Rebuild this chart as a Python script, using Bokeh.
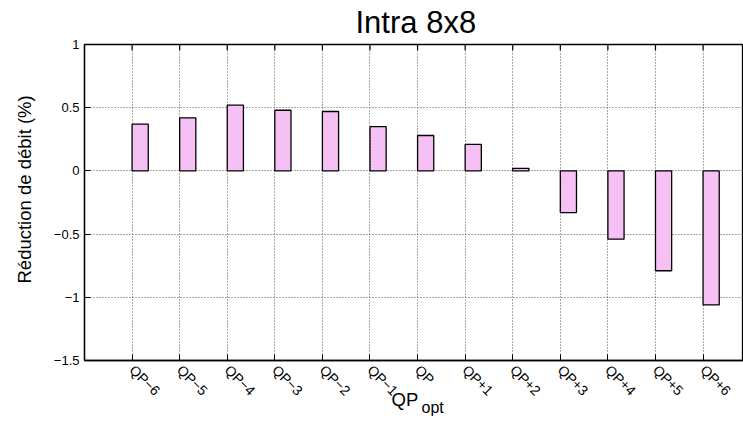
import math
from bokeh.plotting import figure
from bokeh.models import Range1d, FixedTicker, LinearAxis, Title, ColumnDataSource, Grid
from bokeh.embed import file_html
from bokeh.resources import INLINE

# ---- data ----
categories = ["QP\u22126", "QP\u22125", "QP\u22124", "QP\u22123", "QP\u22122", "QP\u22121",
              "QP", "QP+1", "QP+2", "QP+3", "QP+4", "QP+5", "QP+6"]
reduction = [0.37, 0.42, 0.52, 0.48, 0.47, 0.35, 0.28, 0.21, 0.02, -0.33, -0.54, -0.79, -1.06]
y_ticks = [-1.5, -1.0, -0.5, 0.0, 0.5, 1.0]
y_tick_labels = ["\u22121.5", "\u22121", "\u22120.5", "0", "0.5", "1"]
title_text = "Intra 8x8"
y_label = "R\u00e9duction de d\u00e9bit (%)"
x_label_main = "QP"
x_label_sub = "opt"

FONT = "Liberation Sans"
bar_w = 0.34
idx = list(range(len(categories)))
y_lo, y_hi = -1.5, 1.0

src = ColumnDataSource(dict(
    left=idx,
    right=[i + bar_w for i in idx],
    top=reduction,
    bottom=[0] * len(idx),
))

p = figure(width=743, height=423, output_backend="svg", toolbar_location=None,
           x_range=Range1d(-1, 12.85), y_range=Range1d(y_lo, y_hi),
           min_border_left=84, min_border_right=0, min_border_top=44, min_border_bottom=63,
           x_axis_type=None, y_axis_type=None)
p.outline_line_color = "black"
p.outline_line_width = 1.3
p.background_fill_color = "white"
p.border_fill_color = "white"

xticker = FixedTicker(ticks=idx)
yticker = FixedTicker(ticks=y_ticks)

# grids (dotted)
for dim, tk in ((0, xticker), (1, yticker)):
    g = Grid(dimension=dim, ticker=tk, grid_line_color="#555555",
             grid_line_dash="1 2", grid_line_width=1)
    p.add_layout(g)

xaxis = LinearAxis(ticker=xticker)
xaxis.major_label_overrides = {i: c for i, c in zip(idx, categories)}
xaxis.major_label_orientation = -math.pi / 4
xaxis.major_label_standoff = 7
xaxis.major_label_text_font = FONT
xaxis.major_label_text_font_size = "14px"
xaxis.major_label_text_color = "black"
xaxis.major_tick_in = 6
xaxis.major_tick_out = 0
xaxis.minor_tick_line_color = None
xaxis.axis_line_width = 1.3
xaxis.axis_line_color = "black"
xaxis.major_tick_line_color = "black"
p.add_layout(xaxis, "below")

yaxis = LinearAxis(ticker=yticker)
yaxis.major_label_overrides = {t: l for t, l in zip(y_ticks, y_tick_labels)}
yaxis.major_label_standoff = 5
yaxis.major_label_text_font = FONT
yaxis.major_label_text_font_size = "13px"
yaxis.major_label_text_color = "black"
yaxis.major_tick_in = 6
yaxis.major_tick_out = 0
yaxis.minor_tick_line_color = None
yaxis.axis_line_width = 1.3
yaxis.axis_line_color = "black"
p.add_layout(yaxis, "left")

# mirror ticks on the top border, at the category ticks
p.segment(x0=idx, x1=idx, y0=[y_hi] * len(idx), y1=[y_hi - 0.045] * len(idx),
          line_color="black", line_width=1.2)

p.quad(left="left", right="right", top="top", bottom="bottom", source=src,
       fill_color="#f5c0f3", line_color="black", line_width=1.3)

# title
p.title.text = title_text
p.title.text_font = FONT
p.title.text_font_size = "31px"
p.title.text_font_style = "normal"
p.title.text_color = "black"
p.title.align = "left"
p.title.offset = 271
p.title.vertical_align = "top"
p.title.standoff = 5

# y axis label as a left-side title
p.add_layout(Title(text=y_label, text_font=FONT, text_font_size="18.5px",
                   text_font_style="normal", text_color="black",
                   align="left", offset=77, vertical_align="top", standoff=27), "left")

# x axis label QP_opt: subscript panel first (nearer the axis), then the main part
p.add_layout(Title(text=x_label_sub, text_font=FONT, text_font_size="16px",
                   text_font_style="normal", text_color="black",
                   align="left", offset=337, vertical_align="top", standoff=-17), "below")
p.add_layout(Title(text=x_label_main, text_font=FONT, text_font_size="18.5px",
                   text_font_style="normal", text_color="black",
                   align="left", offset=307, vertical_align="top", standoff=-41), "below")

open("out.html", "w").write(file_html(p, INLINE))
